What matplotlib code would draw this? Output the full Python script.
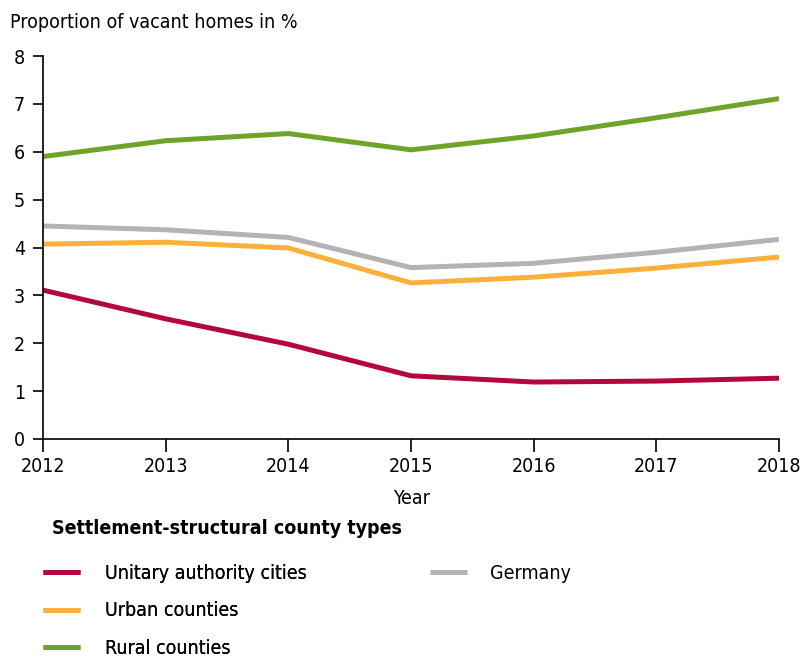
import matplotlib
matplotlib.use('Agg')
import matplotlib.pyplot as plt

years = [2012, 2013, 2014, 2015, 2016, 2017, 2018]
unitary = [3.11, 2.51, 1.98, 1.32, 1.19, 1.21, 1.27]
urban = [4.07, 4.11, 3.99, 3.26, 3.38, 3.57, 3.80]
rural = [5.90, 6.23, 6.38, 6.04, 6.33, 6.71, 7.11]
germany = [4.45, 4.37, 4.21, 3.58, 3.67, 3.90, 4.17]

names = ['Unitary authority cities', 'Urban counties', 'Rural counties', 'Germany']
colors = ['#b5083a', '#fbb03b', '#6fa32a', '#b3b3b3']

plt.rcParams['font.family'] = ['DejaVu Sans']
plt.rcParams['font.stretch'] = 'condensed'
plt.rcParams['font.size'] = 14

fig = plt.figure(figsize=(8.1, 6.59), dpi=100)
ax = fig.add_axes([43/810, 1-439/659, (779-43)/810, (439-56)/659])

lines = []
for vals, c, n in zip([unitary, urban, rural, germany], colors, names):
    l, = ax.plot(years, vals, color=c, lw=3.6, solid_capstyle='butt', label=n)
    lines.append(l)
# grey line sits under the others
lines[3].set_zorder(1.5)

ax.set_xlim(2012, 2018)
ax.set_ylim(0, 8)
ax.set_xticks(years)
ax.set_yticks(range(0, 9))
for s in ['top', 'right']:
    ax.spines[s].set_visible(False)
ax.spines['left'].set_linewidth(1.2)
ax.spines['bottom'].set_linewidth(1.2)
ax.tick_params(axis='x', length=9, width=1.2, pad=4)
ax.tick_params(axis='y', length=7, width=1.2, pad=6)
ax.set_xlabel('Year', labelpad=9)

fig.text(10/810, 1-22/659, 'Proportion of vacant homes in %', va='center', ha='left')
fig.text(52/810, 1-528/659, 'Settlement-structural county types', va='center', ha='left',
         fontweight='bold')

leg1 = fig.legend(lines[:3], names[:3], loc='upper left', bbox_to_anchor=(43/810, 1-564/659),
                  frameon=False, handlelength=1.9, handletextpad=1.3, labelspacing=0.95,
                  borderaxespad=0, borderpad=0)
leg2 = fig.legend(lines[3:], names[3:], loc='upper left', bbox_to_anchor=(430/810, 1-564/659),
                  frameon=False, handlelength=1.9, handletextpad=1.2,
                  borderaxespad=0, borderpad=0)
fig.add_artist(leg1)

fig.savefig('out.png', dpi=100)
